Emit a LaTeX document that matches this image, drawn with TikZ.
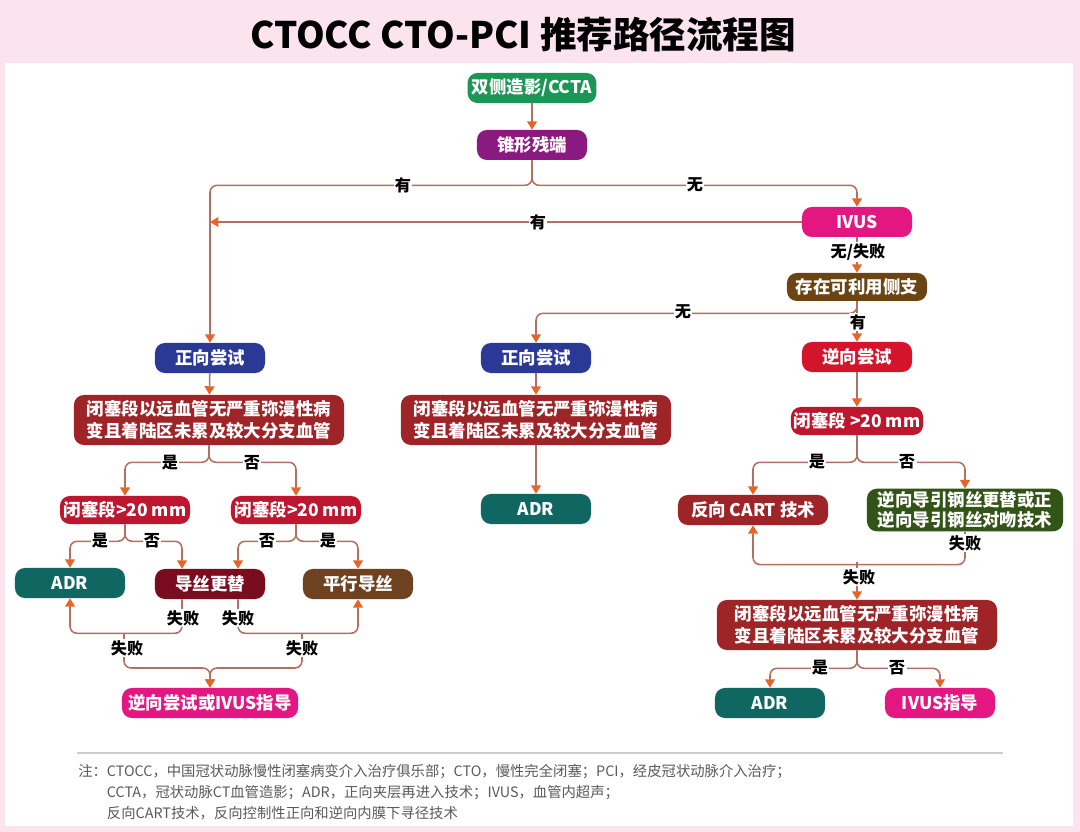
\documentclass[tikz,border=0pt]{standalone}
\usepackage{fontspec}
\setmainfont{Noto Sans CJK SC}
\usepackage{xcolor}
\usepackage{tikz}
\usetikzlibrary{shapes,arrows.meta,positioning,calc}
\definecolor{bgpink}{RGB}{251,228,237}
\definecolor{cgreen}{RGB}{28,150,84}
\definecolor{cpurple}{RGB}{138,26,128}
\definecolor{cmagenta}{RGB}{228,22,130}
\definecolor{cbrown}{RGB}{106,68,18}
\definecolor{cblue}{RGB}{42,56,150}
\definecolor{cred}{RGB}{212,20,42}
\definecolor{ccrimson}{RGB}{190,22,46}
\definecolor{cdarkred}{RGB}{158,36,40}
\definecolor{cteal}{RGB}{16,102,96}
\definecolor{cdgreen}{RGB}{50,84,22}
\definecolor{cmaroon}{RGB}{122,12,32}
\definecolor{cbrown2}{RGB}{110,66,32}
\definecolor{lnc}{RGB}{178,112,98}
\definecolor{arc}{RGB}{230,100,40}
\definecolor{notec}{RGB}{90,90,90}

\begin{document}
\begin{tikzpicture}[
    x=0.025cm, y=-0.025cm,
    box/.style={rectangle, rounded corners=7pt, text=white, align=center, minimum height=0.75cm, minimum width=2.75cm, inner sep=2pt, font=\bfseries\fontsize{12.4}{15.6}\selectfont},
    b1/.style={box, fill=cgreen, minimum width=3.22cm},
    b2/.style={box, fill=cpurple},
    b3/.style={box, fill=cmagenta},
    b4/.style={box, fill=cbrown, minimum width=3.5cm, minimum height=0.7cm},
    b5/.style={box, fill=cblue},
    b6/.style={box, fill=cred},
    b7/.style={box, fill=cdarkred, minimum width=6.75cm, minimum height=1.25cm},
    b8/.style={box, fill=ccrimson, minimum width=3.25cm, minimum height=0.7cm},
    b9/.style={box, fill=cteal},
    b10/.style={box, fill=cdarkred, minimum width=3.75cm},
    b11/.style={box, fill=cdgreen, minimum width=4.9cm, minimum height=1.0cm, font=\bfseries\fontsize{12.4}{14.2}\selectfont},
    b12/.style={box, fill=cmaroon},
    b13/.style={box, fill=cbrown2},
    ln/.style={draw=lnc, line width=1.1pt, rounded corners=5pt},
    arr/.style={ln, -{Triangle[width=7pt,length=6pt,color=arc]}},
    lab/.style={fill=white, inner sep=1pt, font=\bfseries\fontsize{11.5}{13}\selectfont}
]
    \useasboundingbox (0,0) rectangle (1080,832);
    \fill [bgpink] (0,0) rectangle (1080,832);
    \fill [white] (5,63) rectangle (1073,826);
    \node [font=\bfseries\fontsize{26}{30}\selectfont] (title) at (523,35) {CTOCC CTO-PCI 推荐路径流程图};

    \node [b1] (n1) at (532,88) {双侧造影/CCTA};
    \node [b2] (n2) at (532,145) {锥形残端};
    \node [b3] (n3) at (857,222) {IVUS};
    \node [b4] (n4) at (857,287) {存在可利用侧支};
    \node [b5] (n5) at (210,358) {正向尝试};
    \node [b5] (n6) at (536,358) {正向尝试};
    \node [b6] (n7) at (857,357) {逆向尝试};
    \node [b7] (n8) at (209,420) {闭塞段以远血管无严重弥漫性病\\变且着陆区未累及较大分支血管};
    \node [b7] (n9) at (536,420) {闭塞段以远血管无严重弥漫性病\\变且着陆区未累及较大分支血管};
    \node [b8] (n10) at (857,421) {闭塞段 >20 mm};
    \node [b8] (n11) at (125,510) {闭塞段>20 mm};
    \node [b8] (n12) at (296,510) {闭塞段>20 mm};
    \node [b9] (n13) at (536,509) {ADR};
    \node [b10] (n14) at (753,510) {反向 CART 技术};
    \node [b11] (n15) at (965,510) {逆向导引钢丝更替或正\\逆向导引钢丝对吻技术};
    \node [b9] (n16) at (70,583) {ADR};
    \node [b12] (n17) at (210,584) {导丝更替};
    \node [b13] (n18) at (358,584) {平行导丝};
    \node [b3, minimum width=4.4cm] (n19) at (210,703) {逆向尝试或IVUS指导};
    \node [b7, minimum width=7cm] (n20) at (857,625) {闭塞段以远血管无严重弥漫性病\\变且着陆区未累及较大分支血管};
    \node [b9] (n21) at (770,703) {ADR};
    \node [b3] (n22) at (940,703) {IVUS指导};

    \coordinate (j1) at (n5.north |- n3.west);
    \coordinate (f1) at (124,634);
    \coordinate (f2) at (302,634);
    \coordinate (f3) at (857,562);

    \draw [arr] (n1) -- (n2);
    \draw [arr] (n2.south) -- ++(0,25) -| (n5.north);
    \draw [arr] (n2.south) -- ++(0,25) -| (n3.north);
    \draw [arr] (n3.west) -- (j1);
    \draw [arr] (n3) -- (n4);
    \draw [arr] (n4.south) -- ++(0,12) -| (n6.north);
    \draw [arr] (n4) -- (n7);
    \draw [arr] (n5) -- (n8);
    \draw [arr] (n6) -- (n9);
    \draw [arr] (n7) -- (n10);
    \draw [arr] (n8.south) -- ++(0,17) -| (n11.north);
    \draw [arr] (n8.south) -- ++(0,17) -| (n12.north);
    \draw [arr] (n9) -- (n13);
    \draw [arr] (n10.south) -- ++(0,27) -| (n14.north);
    \draw [arr] (n10.south) -- ++(0,27) -| (n15.north);
    \draw [arr] (n11.south) -- ++(0,17) -| (n16.north);
    \draw [arr] (n11.south) -- ++(0,17) -| ($(n17.north)+(-28,0)$);
    \draw [arr] (n12.south) -- ++(0,17) -| ($(n17.north)+(28,0)$);
    \draw [arr] (n12.south) -- ++(0,17) -| (n18.north);
    \draw [arr] ($(n17.south)+(-28,0)$) -- ++(0,34) -| (n16.south);
    \draw [arr] ($(n17.south)+(28,0)$) -- ++(0,34) -| (n18.south);
    \draw [arr] (f1) -- ++(0,34) -| (n19.north);
    \draw [arr] (f2) -- ++(0,34) -| (n19.north);
    \draw [arr] (n15.south) -- ++(0,33) -| (n14.south);
    \draw [arr] (f3) -- (n20.north);
    \draw [arr] (n20.south) -- ++(0,18) -| (n21.north);
    \draw [arr] (n20.south) -- ++(0,18) -| (n22.north);

    \node [lab] (l1) at (403,185) {有};
    \node [lab] (l2) at (695,185) {无};
    \node [lab] (l3) at (538,222) {有};
    \node [lab] (l4) at (858,252) {无/失败};
    \node [lab] (l5) at (683,312) {无};
    \node [lab] (l6) at (858,322) {有};
    \node [lab] (l7) at (170,463) {是};
    \node [lab] (l8) at (252,463) {否};
    \node [lab] (l9) at (817,462) {是};
    \node [lab] (l10) at (907,462) {否};
    \node [lab] (l11) at (100,541) {是};
    \node [lab] (l12) at (152,541) {否};
    \node [lab] (l13) at (267,541) {否};
    \node [lab] (l14) at (328,541) {是};
    \node [lab] (l15) at (183,618) {失败};
    \node [lab] (l16) at (238,618) {失败};
    \node [lab] (l17) at (127,648) {失败};
    \node [lab] (l18) at (302,648) {失败};
    \node [lab] (l19) at (965,543) {失败};
    \node [lab] (l20) at (859,577) {失败};
    \node [lab] (l21) at (820,668) {是};
    \node [lab] (l22) at (897,668) {否};

    \draw [gray!40, line width=1.5pt] (77,753) -- (1003,753);
    \node [anchor=north west, align=left, text=notec, inner sep=0pt, font=\fontsize{10.2}{14.9}\selectfont] (note) at (78,764) {注：CTOCC，中国冠状动脉慢性闭塞病变介入治疗俱乐部；CTO，慢性完全闭塞；PCI，经皮冠状动脉介入治疗；\\\hspace*{2em}CCTA，冠状动脉CT血管造影；ADR，正向夹层再进入技术；IVUS，血管内超声；\\\hspace*{2em}反向CART技术，反向控制性正向和逆向内膜下寻径技术};
\end{tikzpicture}
\end{document}
